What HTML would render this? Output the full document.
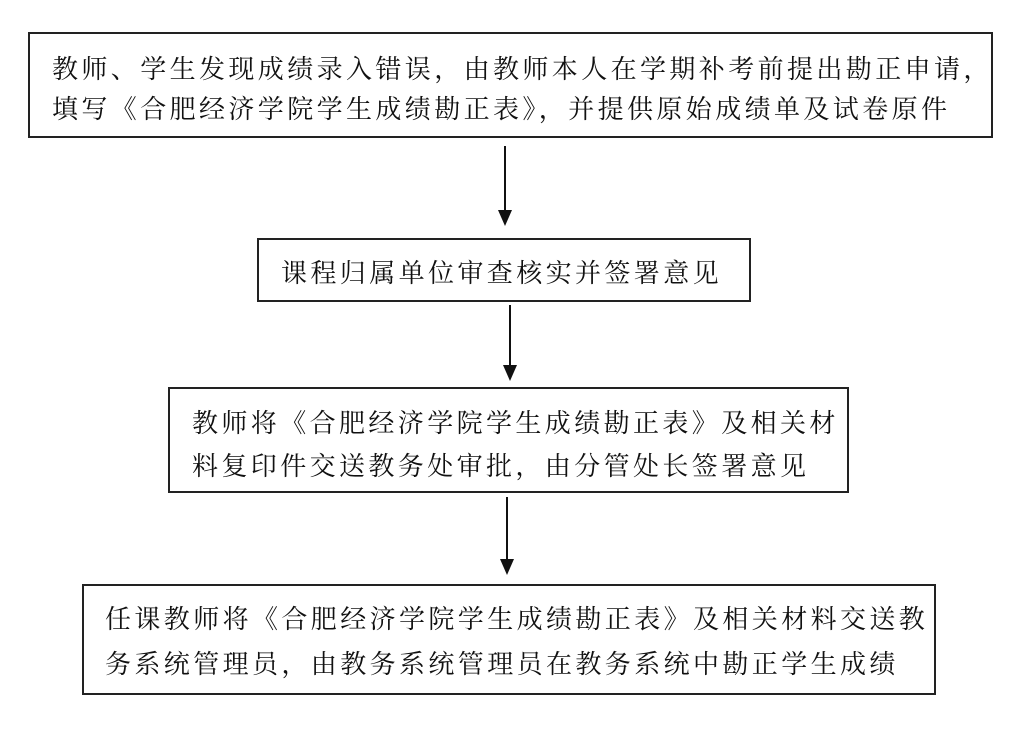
<!DOCTYPE html>
<html><head><meta charset="utf-8"><style>
body{margin:0;width:1024px;height:736px;background:#fff;position:relative;overflow:hidden;font-family:"Noto Serif CJK SC","Liberation Serif",serif;color:#111}
.b{position:absolute;border:2px solid #222;box-sizing:border-box}
.t{position:absolute;font-size:26px;letter-spacing:3.4px;white-space:nowrap;line-height:30px}
</style></head><body>
<div class="b" style="left:28px;top:32px;width:965px;height:106px"></div>
<div class="t" style="left:52px;top:53px">教师、学生发现成绩录入错误，由教师本人在学期补考前提出勘正申请，</div>
<div class="t" style="left:52px;top:93px">填写《合肥经济学院学生成绩勘正表》，并提供原始成绩单及试卷原件</div>
<div class="b" style="left:257px;top:238px;width:494px;height:64px"></div>
<div class="t" style="left:281px;top:257px">课程归属单位审查核实并签署意见</div>
<div class="b" style="left:168px;top:387px;width:681px;height:106px"></div>
<div class="t" style="left:192px;top:407px">教师将《合肥经济学院学生成绩勘正表》及相关材</div>
<div class="t" style="left:192px;top:450px">料复印件交送教务处审批，由分管处长签署意见</div>
<div class="b" style="left:82px;top:584px;width:854px;height:111px"></div>
<div class="t" style="left:105px;top:603px">任课教师将《合肥经济学院学生成绩勘正表》及相关材料交送教</div>
<div class="t" style="left:105px;top:648px">务系统管理员，由教务系统管理员在教务系统中勘正学生成绩</div>
<svg width="1024" height="736" style="position:absolute;left:0;top:0">
<g stroke="#111" stroke-width="2" fill="#111">
<line x1="505" y1="146" x2="505" y2="212"/><polygon points="498,210 512,210 505,226" stroke="none"/>
<line x1="510" y1="305" x2="510" y2="367"/><polygon points="503,365 517,365 510,381" stroke="none"/>
<line x1="507" y1="497" x2="507" y2="561"/><polygon points="500,559 514,559 507,575" stroke="none"/>
</g></svg>
</body></html>
